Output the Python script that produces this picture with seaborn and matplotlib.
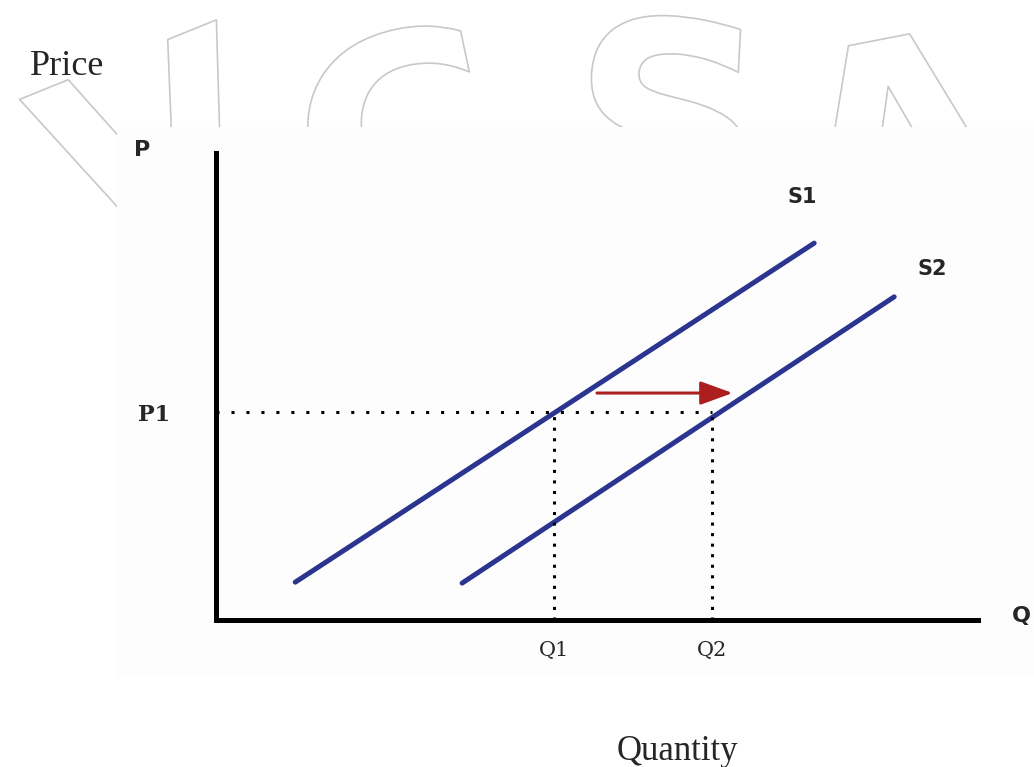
import numpy as np
import pandas as pd
import matplotlib
matplotlib.use('Agg')
import matplotlib.pyplot as plt
import matplotlib.patheffects as pe
from matplotlib.patches import Rectangle
import seaborn as sns

# supply curves (quantity, price)
curves = ['S1', 'S1', 'S2', 'S2']
quantity = [1.04, 7.85, 3.23, 8.90]
price = [0.81, 8.07, 0.79, 6.92]

p1 = 4.45
q1 = 4.44
q2 = 6.51
shift_from = 5.00
shift_to = 6.78
shift_price = 4.86

tick_q = [q1, q2]
tick_q_labels = ['Q1', 'Q2']
tick_p = [p1]
tick_p_labels = ['P1']

watermark = ['V', 'C', 'S', 'A']

navy = '#2b3590'
dark_red = '#ad1f1f'

sns.set_style('white')
plt.rcParams['font.family'] = ['DejaVu Sans']

W, H = 1034, 767
fig = plt.figure(figsize=(W / 100, H / 100), dpi=100)

def fx(x):
    return x / W

def fy(y):
    return 1 - y / H

# faint watermark letters behind the pasted chart
wm_pos = [(165, 176, 22), (402, 160, 12), (668, 145, -3), (903, 163, 11)]
for letter, (x, y, rot) in zip(watermark, wm_pos):
    fig.text(fx(x), fy(y), letter, fontsize=200, fontweight='bold', color='none',
             ha='center', va='center', rotation=rot, rotation_mode='anchor', zorder=-2,
             path_effects=[pe.Stroke(linewidth=1.2, foreground='#c8c8c8')])

fig.add_artist(Rectangle((fx(117), fy(678)), fx(W - 117), (678 - 127) / H,
                         transform=fig.transFigure, facecolor='#fdfdfd',
                         edgecolor='none', zorder=-1))

ax = fig.add_axes([fx(216), fy(620), fx(978 - 216), (620 - 153) / H])
ax.set_facecolor('none')

df = pd.DataFrame({'curve': curves, 'quantity': quantity, 'price': price})
sns.lineplot(data=df, x='quantity', y='price', hue='curve', palette=[navy, navy],
             linewidth=3.6, legend=False, ax=ax, solid_capstyle='round')

# dotted guides
ax.plot([0, q2], [p1, p1], color='black', lw=2.2, dashes=(1, 3.9))
ax.plot([q1, q1], [0, p1], color='black', lw=2.2, dashes=(1, 2.45))
ax.plot([q2, q2], [0, p1], color='black', lw=2.2, dashes=(1, 2.45))

ax.annotate('', xy=(shift_to, shift_price), xytext=(shift_from, shift_price),
            arrowprops=dict(arrowstyle='-|>,head_length=0.55,head_width=0.2',
                            color=dark_red, lw=2.2, mutation_scale=36,
                            shrinkA=0, shrinkB=0))

ax.set_xlim(0, 10)
ax.set_ylim(0, 10)
ax.set_xlabel('')
ax.set_ylabel('')
ax.set_xticks(tick_q, tick_q_labels, fontfamily='DejaVu Serif', fontsize=15)
ax.set_yticks(tick_p, tick_p_labels, fontfamily='DejaVu Serif', fontsize=16,
              fontweight='bold')
ax.tick_params(axis='x', length=0, pad=15)
ax.tick_params(axis='y', length=0, pad=33)

sns.despine(ax=ax)
for side in ['left', 'bottom']:
    ax.spines[side].set_linewidth(3.6)
    ax.spines[side].set_color('black')

ax.text(-0.97, 10.06, 'P', fontsize=16, fontweight='bold', ha='center', va='center')
ax.text(10.45, 0.09, 'Q', fontsize=16, fontweight='bold', ha='left', va='center')
ax.text(7.70, 9.06, 'S1', fontsize=15, fontweight='bold', ha='center', va='center')
ax.text(9.40, 7.52, 'S2', fontsize=15, fontweight='bold', ha='center', va='center')

fig.text(fx(30), fy(75), 'Price', fontsize=26, fontfamily='Liberation Serif',
         ha='left', va='baseline')
fig.text(fx(617), fy(760), 'Quantity', fontsize=25, fontfamily='Liberation Serif',
         ha='left', va='baseline')

fig.savefig('out.png', dpi=100)
